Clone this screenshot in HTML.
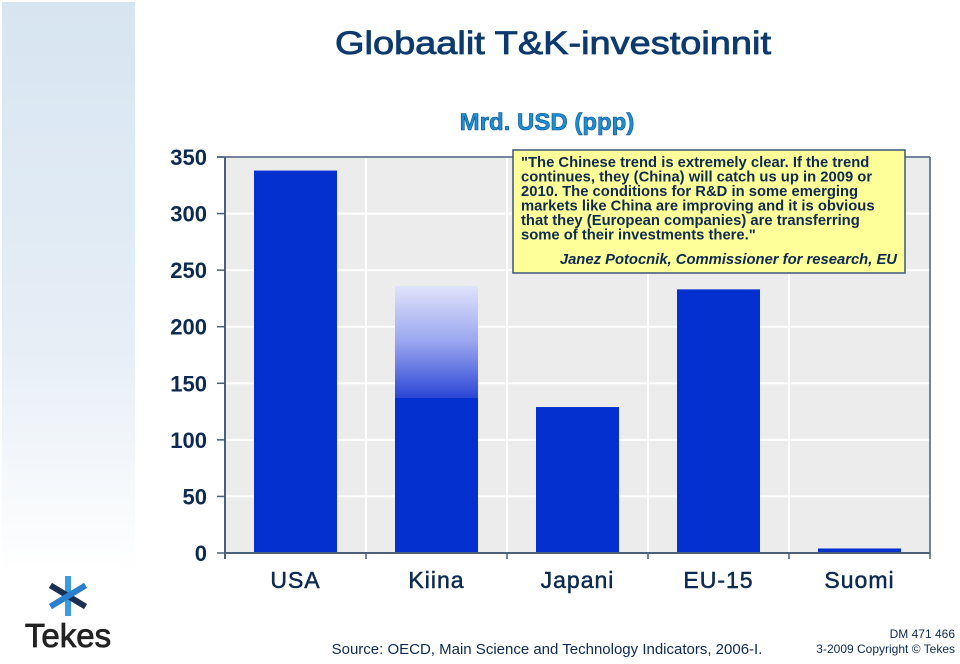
<!DOCTYPE html>
<html><head><meta charset="utf-8"><style>
body{margin:0;width:960px;height:659px;overflow:hidden;background:#fff;font-family:"Liberation Sans",sans-serif;}
</style></head><body>
<svg width="960" height="659" viewBox="0 0 960 659" xmlns="http://www.w3.org/2000/svg" font-family="Liberation Sans, sans-serif">
<defs>
<linearGradient id="strip" x1="0" y1="0" x2="0" y2="1"><stop offset="0" stop-color="#d7e5f1"/><stop offset="0.6" stop-color="#e6eef6"/><stop offset="1" stop-color="#ffffff"/></linearGradient>
<linearGradient id="kgrad" x1="0" y1="0" x2="0" y2="1"><stop offset="0" stop-color="#dfe3fb"/><stop offset="0.5" stop-color="#9aa6ef"/><stop offset="1" stop-color="#2b46d6"/></linearGradient>
</defs>
<rect x="2" y="2" width="133" height="570" fill="url(#strip)"/>
<text x="553" y="54" text-anchor="middle" font-size="32" fill="#0d3a6e" stroke="#0d3a6e" stroke-width="0.8" textLength="436" lengthAdjust="spacingAndGlyphs">Globaalit T&amp;K-investoinnit</text>
<text x="547" y="130" text-anchor="middle" font-size="24" font-weight="bold" fill="#1a8fd8" stroke="#0d4c8a" stroke-width="0.6">Mrd. USD (ppp)</text>
<g id="chart"></g>
<g>
<rect x="513" y="150" width="392" height="123" fill="#ffff99" stroke="#3d5578" stroke-width="1.5"/>
<g font-size="14.8" font-weight="bold" fill="#0d2a50">
<text x="521" y="167">"The Chinese trend is extremely clear. If the trend</text>
<text x="521" y="181.5">continues, they (China) will catch us up in 2009 or</text>
<text x="521" y="196">2010. The conditions for R&amp;D in some emerging</text>
<text x="521" y="210.5">markets like China are improving and it is obvious</text>
<text x="521" y="225">that they (European companies) are transferring</text>
<text x="521" y="239.5">some of their investments there."</text>
<text x="897" y="264" text-anchor="end" font-style="italic">Janez Potocnik, Commissioner for research, EU</text>
</g></g>
<g>
<g transform="translate(68,596)" stroke-width="6" stroke-linecap="square">
<line x1="0" y1="-17" x2="0" y2="17" stroke="#3a9be0"/>
<line x1="-15" y1="-9" x2="15" y2="9" stroke="#1b2f4f"/>
<line x1="-15" y1="9" x2="15" y2="-9" stroke="#2a7fcf"/>
</g>
<text x="68" y="647" text-anchor="middle" font-size="33" fill="#222" stroke="#222" stroke-width="0.8">Tekes</text>
</g>
<text x="547" y="654" text-anchor="middle" font-size="15" fill="#0d2a50">Source: OECD, Main Science and Technology Indicators, 2006-I.</text>
<text x="955" y="638" text-anchor="end" font-size="12" fill="#0d2a50">DM 471 466</text>
<text x="955" y="653" text-anchor="end" font-size="12" fill="#0d2a50">3-2009 Copyright © Tekes</text>
</svg>
<script>
const categories=["USA","Kiina","Japani","EU-15","Suomi"];
const values=[338,137,129,233,4];
const projected=[null,236,null,null,null];
const yTicks=[0,50,100,150,200,250,300,350];
const NS="http://www.w3.org/2000/svg";
const L=225,R=930,T=157,B=553,yMax=350;
const y=v=>B-v/yMax*(B-T);
const bw=(R-L)/categories.length;
const x=i=>L+i*bw;
const g=document.getElementById('chart');
function mk(t,a){const e=document.createElementNS(NS,t);for(const k in a)e.setAttribute(k,a[k]);g.appendChild(e);return e;}
const bg=mk('rect',{x:L,y:T,width:R-L,height:B-T,fill:'#ececec'});


yTicks.forEach(v=>{
  if(v>0){const gl=mk('line',{x1:L,x2:R,y1:y(v),y2:y(v),stroke:'#fff','stroke-width':2});
  
  }
  const tk=mk('line',{x1:L-8,x2:L,y1:y(v),y2:y(v),stroke:'#4a5f7a','stroke-width':1.5});
  
  
  const t=mk('text',{x:207,y:y(v)+8,'text-anchor':'end','font-size':22,'font-weight':'bold',fill:'#0d2a50'});
  t.textContent=v;
  
  
});
for(let i=1;i<categories.length;i++){
  const vl=mk('line',{x1:x(i),x2:x(i),y1:T,y2:B,stroke:'#fff','stroke-width':2});
  
  
}
categories.forEach((c,i)=>{
  const bx=x(i)+bw/2-41.5;
  if(projected[i]!=null){
    const p=mk('rect',{x:bx,y:y(projected[i]),width:83,height:y(values[i])-y(projected[i]),fill:'url(#kgrad)'});
    
    
  }
  const r=mk('rect',{x:bx,y:y(values[i]),width:83,height:B-y(values[i]),fill:'#0530d0'});
  
  
  const t=mk('text',{x:x(i)+bw/2,y:588,'text-anchor':'middle','font-size':23,'letter-spacing':'1',fill:'#0d2a50',stroke:'#0d2a50','stroke-width':0.5});
  t.textContent=c;
  
  
  const xt=mk('line',{x1:x(i+1),x2:x(i+1),y1:B,y2:B+6,stroke:'#4a5f7a','stroke-width':1.5});
  
  
});
const ya=mk('line',{x1:L,x2:L,y1:T,y2:B+6,stroke:'#4a5f7a','stroke-width':2});


const xa=mk('line',{x1:L,x2:R,y1:B,y2:B,stroke:'#4a5f7a','stroke-width':2});


const ra=mk('line',{x1:R,x2:R,y1:T,y2:B,stroke:'#4a5f7a','stroke-width':1.5});


const ta=mk('line',{x1:L-8,x2:R,y1:T,y2:T,stroke:'#4a5f7a','stroke-width':1.5});


</script>
</body></html>
